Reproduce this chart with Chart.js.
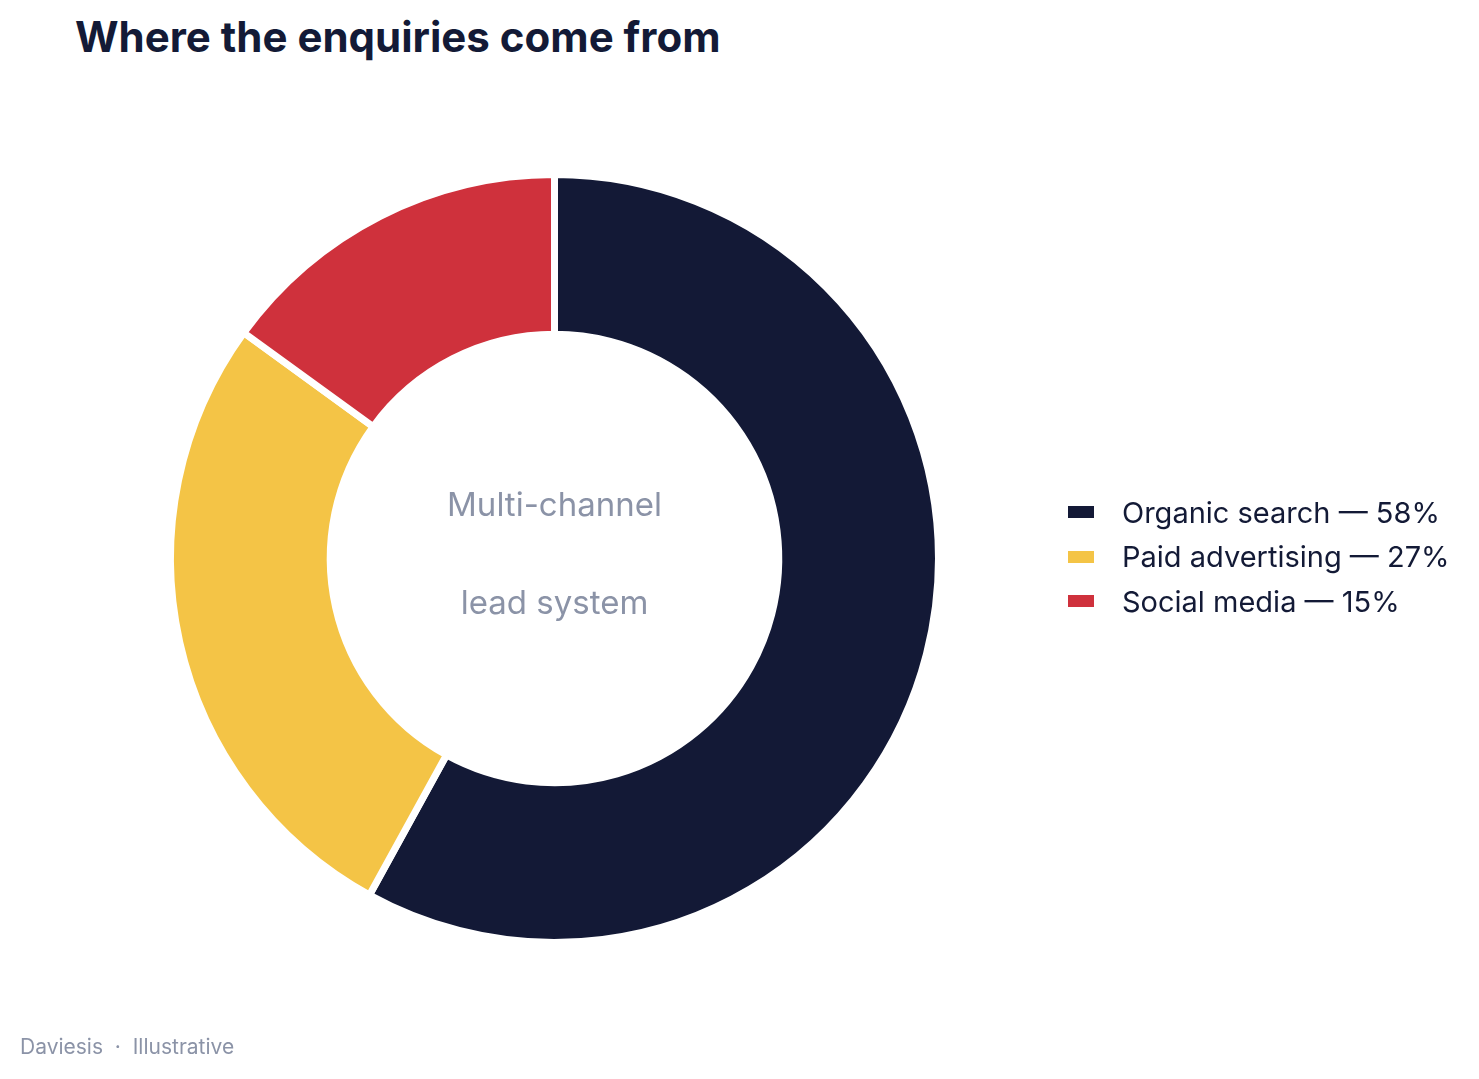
<!DOCTYPE html>
<html>
<head>
<meta charset="utf-8">
<script src="https://cdn.jsdelivr.net/npm/chart.js@4.4.1/dist/chart.umd.min.js"></script>
<style>
  html, body { margin: 0; padding: 0; background: #fff; }
  body { width: 1479px; height: 1079px; position: relative; overflow: hidden; font-family: Inter, "Noto Sans", sans-serif; }
  #title { position: absolute; left: 75px; top: 11px; font-size: 42px; font-weight: 700; color: #131a36; }
  #wrap { position: absolute; left: 0; top: 0; width: 1479px; height: 1079px; }
  #legend { position: absolute; left: 1068px; top: 490px; }
  .item { height: 44.5px; display: flex; align-items: center; font-size: 29px; color: #131a36; }
  .box { width: 26px; height: 12px; margin-right: 28px; }
  #footer { position: absolute; left: 20px; top: 1034px; font-size: 21px; color: #8b93a7; }
</style>
</head>
<body>
<div id="title">Where the enquiries come from</div>
<div id="wrap"><canvas id="chart"></canvas></div>
<div id="legend"></div>
<div id="footer">Daviesis &nbsp;·&nbsp; Illustrative</div>
<script>
const categories = ['Organic search', 'Paid advertising', 'Social media'];
const shares = [58, 27, 15];
const colors = ['#131936', '#f4c446', '#cf313c'];
const centerLines = ['Multi-channel', 'lead system'];

// legend as plain html, built from the arrays
document.getElementById('legend').innerHTML = categories.map((c, i) => `
  <div class="item"><span class="box" style="background:${colors[i]}"></span>${c} — ${shares[i]}%</div>
`).join('');

const centerText = {
  id: 'centerText',
  afterDraw(chart) {
    const arc = chart.getDatasetMeta(0).data[0];
    if (!arc) return;
    const ctx = chart.ctx;
    ctx.save();
    ctx.font = '33px Inter, "Noto Sans", sans-serif';
    ctx.fillStyle = '#8b93a7';
    ctx.textAlign = 'center';
    ctx.textBaseline = 'alphabetic';
    ctx.fillText(centerLines[0], arc.x, arc.y - 43);
    ctx.fillText(centerLines[1], arc.x, arc.y + 55);
    ctx.restore();
  }
};

new Chart(document.getElementById('chart'), {
  type: 'doughnut',
  data: {
    labels: categories,
    datasets: [{
      data: shares,
      backgroundColor: colors,
      borderColor: '#ffffff',
      borderWidth: 7,
      hoverOffset: 0,
      hoverBorderWidth: 7
    }]
  },
  options: {
    responsive: true,
    maintainAspectRatio: false,
    animation: false,
    cutout: '58.4%',
    layout: { padding: { left: 167, right: 537, top: 171, bottom: 133 } },
    plugins: { legend: { display: false }, tooltip: { enabled: false } }
  },
  plugins: [centerText]
});
</script>
</body>
</html>
